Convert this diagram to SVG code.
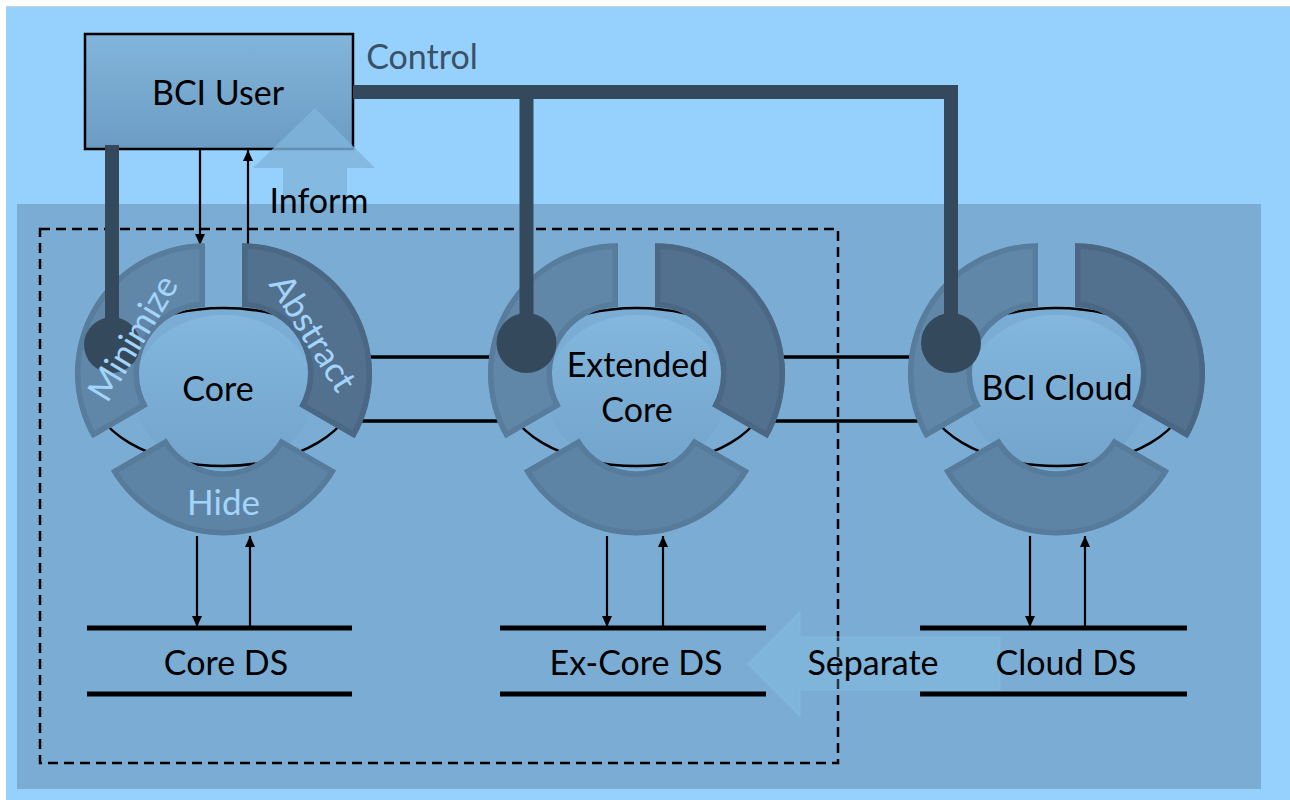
<svg xmlns="http://www.w3.org/2000/svg" width="1290" height="800" viewBox="0 0 1290 800">
<style>
.t{font-family:Lato,"Liberation Sans",sans-serif;font-size:34px;fill:#000;text-anchor:middle}
.ts{font-family:Lato,"Liberation Sans",sans-serif;font-size:35px;fill:#A3D4FB;text-anchor:middle}
.thin{stroke:#000;stroke-width:2.2;fill:none}
.conn{stroke:#000;stroke-width:3.5;fill:none}
.ds{stroke:#000;stroke-width:5}
.ctl{stroke:#344A5C;stroke-width:14;fill:none}
.sl{fill:#6187A8;stroke:#577C9C;stroke-width:11}
.sr{fill:#52718E;stroke:#4A6883;stroke-width:11}
.sb{fill:#5E84A5;stroke:#567B9B;stroke-width:11}
.el{fill:none;stroke:#000;stroke-width:2.5}
</style>
<defs>
<linearGradient id="gBox" x1="0" y1="0" x2="0" y2="1"><stop offset="0" stop-color="#82B5DB"/><stop offset="1" stop-color="#6C9CC3"/></linearGradient>
<linearGradient id="gIn" x1="0" y1="0" x2="0" y2="1"><stop offset="0" stop-color="#83B7DE"/><stop offset="1" stop-color="#73A4CB"/></linearGradient>
<marker id="ah" markerUnits="userSpaceOnUse" markerWidth="12" markerHeight="10" refX="11" refY="5" orient="auto"><path d="M0,0 L11,5 L0,10 z" fill="#000"/></marker>
<path id="segL" d="M-18.5,-140.7 A130,130 0 0 0 -131.1,54.3 L-75.7,22.3 A66,66 0 0 1 -18.5,-76.7 Z"/>
<path id="segR" d="M18.5,-140.7 A130,130 0 0 1 131.1,54.3 L75.7,22.3 A66,66 0 0 0 18.5,-76.7 Z"/>
<path id="segB" d="M112.58,86.4 A130,130 0 0 1 -112.58,86.4 L-57.16,54.4 A66,66 0 0 0 57.16,54.4 Z"/>
<clipPath id="cL"><use href="#segL"/></clipPath>
<clipPath id="cR"><use href="#segR"/></clipPath>
<clipPath id="cB"><use href="#segB"/></clipPath>
</defs>

<g id="background">
<rect x="0" y="0" width="1290" height="800" fill="#fff"/>
<rect x="6" y="6" width="1284" height="794" fill="#96D0FC"/>
<line x1="6" y1="6.5" x2="1290" y2="6.5" stroke="#d0d0d0" stroke-width="1"/>
<rect x="17" y="204" width="1244" height="585" fill="#7BADD4"/>
<rect x="40" y="229" width="798" height="534" fill="none" stroke="#000" stroke-width="2.5" stroke-dasharray="10,6"/>
</g>

<g id="bci-user">
<rect x="85" y="34" width="268" height="115" fill="url(#gBox)" stroke="#000" stroke-width="2.5"/>
<text class="t" x="218" y="105">BCI User</text>
</g>

<g id="inform">
<polygon points="315,108 375,168 347,168 347,204 283,204 283,168 253,168" fill="#80B4DB" opacity="0.8"/>
<text class="t" x="319" y="213">Inform</text>
</g>

<g id="control-label">
<text class="t" x="422" y="69" style="fill:#3A5066">Control</text>
</g>

<g id="separate">
<polygon points="748,664 800,612 800,637 1000,637 1000,690 800,690 800,716" fill="#8CC4EE" fill-opacity="0.28" stroke="#8DC2EA" stroke-opacity="0.35" stroke-width="1.5"/>
<text class="t" x="873" y="675">Separate</text>
</g>

<g id="connectors">
<line class="conn" x1="360" y1="357" x2="500" y2="357"/>
<line class="conn" x1="360" y1="421" x2="500" y2="421"/>
<line class="conn" x1="770" y1="357" x2="920" y2="357"/>
<line class="conn" x1="770" y1="421" x2="920" y2="421"/>
<line class="thin" x1="200" y1="149" x2="200" y2="245" marker-end="url(#ah)"/>
<line class="thin" x1="248" y1="245" x2="248" y2="150" marker-end="url(#ah)"/>
<line class="thin" x1="197" y1="536" x2="197" y2="627" marker-end="url(#ah)"/>
<line class="thin" x1="250" y1="627" x2="250" y2="536" marker-end="url(#ah)"/>
<line class="thin" x1="607" y1="536" x2="607" y2="627" marker-end="url(#ah)"/>
<line class="thin" x1="663" y1="627" x2="663" y2="536" marker-end="url(#ah)"/>
<line class="thin" x1="1030" y1="536" x2="1030" y2="627" marker-end="url(#ah)"/>
<line class="thin" x1="1085" y1="627" x2="1085" y2="536" marker-end="url(#ah)"/>
</g>

<g id="core" transform="translate(223.5,384)">
<ellipse cx="0" cy="8" rx="90" ry="77" fill="url(#gIn)"/>
<ellipse class="el" cx="0" cy="3" rx="133" ry="79"/>
<use href="#segL" class="sl" clip-path="url(#cL)"/>
<use href="#segR" class="sr" clip-path="url(#cR)"/>
<use href="#segB" class="sb" clip-path="url(#cB)"/>
<text class="t" x="-5.5" y="17">Core</text>
</g>

<g id="extended-core" transform="translate(636.5,384)">
<ellipse cx="0" cy="8" rx="90" ry="77" fill="url(#gIn)"/>
<ellipse class="el" cx="0" cy="3" rx="133" ry="79"/>
<use href="#segL" class="sl" clip-path="url(#cL)"/>
<use href="#segR" class="sr" clip-path="url(#cR)"/>
<use href="#segB" class="sb" clip-path="url(#cB)"/>
<text class="t" x="1" y="-7">Extended</text>
<text class="t" x="0.5" y="38">Core</text>
</g>

<g id="bci-cloud" transform="translate(1056.5,384)">
<ellipse cx="0" cy="8" rx="90" ry="77" fill="url(#gIn)"/>
<ellipse class="el" cx="0" cy="3" rx="133" ry="79"/>
<use href="#segL" class="sl" clip-path="url(#cL)"/>
<use href="#segR" class="sr" clip-path="url(#cR)"/>
<use href="#segB" class="sb" clip-path="url(#cB)"/>
<text class="t" x="0.5" y="16">BCI Cloud</text>
</g>

<g id="core-ds">
<line class="ds" x1="87" y1="628" x2="352" y2="628"/>
<line class="ds" x1="87" y1="694" x2="352" y2="694"/>
<text class="t" x="226" y="675">Core DS</text>
</g>

<g id="ex-core-ds">
<line class="ds" x1="500" y1="628" x2="766" y2="628"/>
<line class="ds" x1="500" y1="694" x2="766" y2="694"/>
<text class="t" x="636" y="675">Ex-Core DS</text>
</g>

<g id="cloud-ds">
<line class="ds" x1="920" y1="628" x2="1187" y2="628"/>
<line class="ds" x1="920" y1="694" x2="1187" y2="694"/>
<text class="t" x="1066" y="675">Cloud DS</text>
</g>

<g id="control-connectors">
<path class="ctl" d="M353,92 H951 V343"/>
<path class="ctl" d="M526.5,92 V343"/>
<path class="ctl" d="M112,145 V345"/>
<circle cx="112" cy="345" r="28" fill="#344A5C"/>
<circle cx="526.5" cy="343" r="30" fill="#344A5C"/>
<circle cx="951" cy="343" r="30" fill="#344A5C"/>
</g>

<g id="core-segment-labels" transform="translate(223.5,384)">
<text class="ts" transform="translate(-90.5,-46) rotate(-59)" y="12">Minimize</text>
<text class="ts" transform="translate(89.5,-51) rotate(58)" y="12">Abstract</text>
<text class="ts" x="0" y="131">Hide</text>
</g>
</svg>
